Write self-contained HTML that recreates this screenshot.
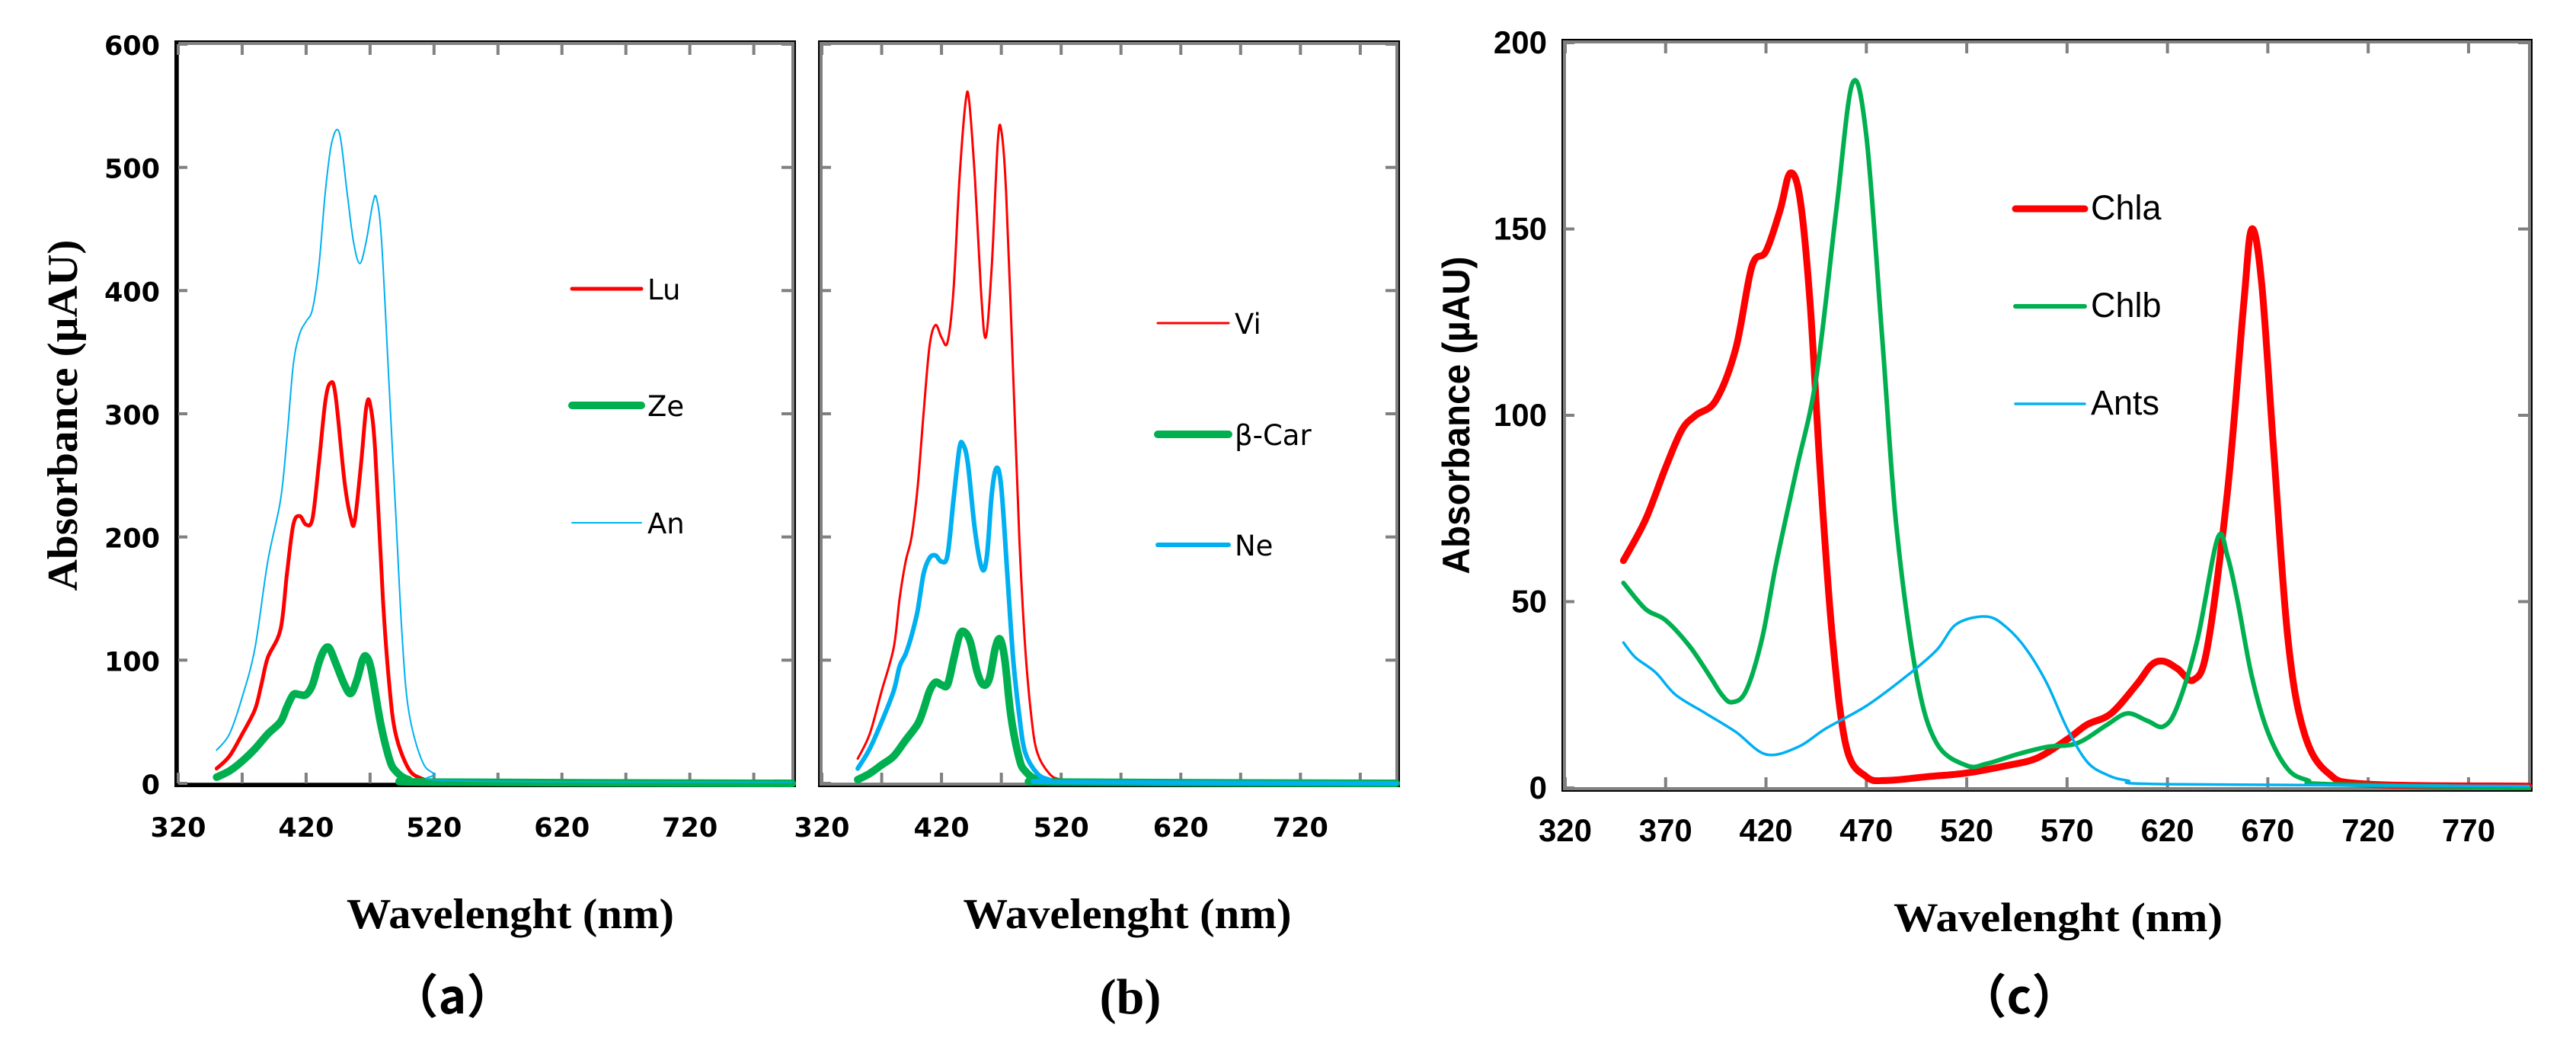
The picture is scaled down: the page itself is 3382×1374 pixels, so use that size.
<!DOCTYPE html>
<html><head><meta charset="utf-8">
<style>
html,body{margin:0;padding:0;background:#fff;}
svg{display:block;}
.tk{font-family:"DejaVu Sans",sans-serif;font-weight:bold;font-size:35px;fill:#000;}
.tkc{font-family:"Liberation Sans",sans-serif;font-weight:bold;font-size:42px;fill:#000;}
.ser{font-family:"Liberation Serif",serif;font-weight:bold;fill:#000;}
.lg{font-family:"DejaVu Sans",sans-serif;font-size:37px;fill:#000;}
.lgc{font-family:"Liberation Sans",sans-serif;font-size:45px;fill:#000;}
</style></head>
<body>
<svg id="chart" width="3382" height="1374" viewBox="0 0 3382 1374" xmlns="http://www.w3.org/2000/svg">
<g id="layer"></g>
</svg>
<script>
// ---- data ----
const xTicksAB = [320,420,520,620,720];
const yTicksAB = [0,100,200,300,400,500,600];
const xTicksC = [320,370,420,470,520,570,620,670,720,770];
const yTicksC = [0,50,100,150,200];

const luNm = [350,360,370,380,385,390,400,405,410,415,420,425,430,435,439,443,450,455,458,463,467,470,474,480,485,490,500,510,520,540,800];
const luVal = [12,22,40,60,80,102,125,170,210,217,210,215,260,310,325,315,245,215,213,260,305,308,270,150,80,40,12,4,2,1,0];
const anNm = [350,360,370,380,390,400,405,410,415,420,425,430,435,440,446,452,457,462,467,472,475,479,485,490,495,500,510,520,540,800];
const anVal = [27,40,70,110,180,230,280,340,365,375,385,420,480,520,528,480,440,422,440,470,475,440,320,220,120,60,20,8,2,1];
const zeNm = [350,360,370,380,390,400,405,410,415,420,425,430,434,438,443,450,455,460,464,467,471,478,485,490,500,520,800];
const zeVal = [5,10,18,28,40,50,62,72,72,72,80,98,108,110,98,80,73,85,100,103,92,50,20,10,3,1,0];

const viNm = [350,360,370,380,385,390,395,400,405,410,415,420,425,430,435,440,443,448,453,457,462,467,470,474,480,485,490,495,500,510,520,540,800];
const viVal = [20,40,75,110,150,180,200,240,300,355,372,362,358,400,490,552,555,490,400,362,420,520,530,480,330,200,110,55,25,8,3,1,0];
const neNm = [350,360,370,380,385,390,395,400,405,410,415,420,425,430,435,438,442,448,454,458,462,466,470,475,480,485,490,500,510,520,800];
const neVal = [12,28,50,75,95,105,120,140,170,183,185,180,185,230,272,275,260,205,174,185,235,256,240,170,100,55,25,8,3,1,0];
const bcNm = [350,360,370,380,390,400,405,410,415,420,425,430,435,439,444,450,455,460,465,469,473,478,485,490,500,520,800];
const bcVal = [3,8,15,22,35,48,60,75,82,80,80,100,120,123,115,90,80,85,110,117,100,55,20,10,3,1,0];

const chlaNm = [349,360,370,378,385,395,405,413,420,427,432,437,442,447,453,460,470,480,500,520,540,555,570,580,592,605,612,618,625,633,640,650,658,662,667,673,680,688,700,720,800];
const chlaVal = [61,72,86,96,100,104,118,140,144,155,165,158,130,85,41,11,3,2,3,4,6,8,13,17,20,28,33,34,32,29,38,80,130,150,135,90,40,15,4,1,0.5];
const chlbNm = [349,360,370,382,392,398,403,410,418,425,435,445,455,463,470,478,485,495,505,520,530,545,560,575,590,600,610,618,625,635,645,650,655,662,670,680,690,700,800];
const chlbVal = [55,48,45,38,30,25,23,26,40,60,85,110,155,189,175,120,70,30,12,6,6.5,9,11,12,17,20,18,16.5,22,40,67,62,50,30,15,5,2,1,0];
const antsNm = [349,355,365,375,390,405,420,436,450,470,490,505,515,530,540,550,560,570,580,590,600,620,800];
const antsVal = [39,35,31,25,20,15,9,11,16,22,30,37,44,46,43,37,28,16,7,3.5,2,1,0.5];

// ---- helpers ----
const NS="http://www.w3.org/2000/svg";
const layer=document.getElementById('layer');
function mk(tag,attrs,parent){const e=document.createElementNS(NS,tag);for(const k in attrs)e.setAttribute(k,attrs[k]);(parent||layer).appendChild(e);return e;}
function smooth(pts){
  let d="M"+pts[0][0].toFixed(1)+","+pts[0][1].toFixed(1);
  for(let i=0;i<pts.length-1;i++){
    const p0=pts[Math.max(i-1,0)],p1=pts[i],p2=pts[i+1],p3=pts[Math.min(i+2,pts.length-1)];
    const c1=[p1[0]+(p2[0]-p0[0])/6,p1[1]+(p2[1]-p0[1])/6];
    const c2=[p2[0]-(p3[0]-p1[0])/6,p2[1]-(p3[1]-p1[1])/6];
    d+="C"+c1[0].toFixed(1)+","+c1[1].toFixed(1)+" "+c2[0].toFixed(1)+","+c2[1].toFixed(1)+" "+p2[0].toFixed(1)+","+p2[1].toFixed(1);
  }
  return d;
}
function panel(cfg){
  const g=mk('g',{});
  
  
  const X=v=>cfg.x0+(v-cfg.xmin)/(cfg.xmax-cfg.xmin)*(cfg.x1-cfg.x0);
  const Y=v=>cfg.y0-(v-cfg.ymin)/(cfg.ymax-cfg.ymin)*(cfg.y0-cfg.y1);
  const fo=mk('rect',{x:cfg.x0-4,y:cfg.y1-4,width:cfg.x1-cfg.x0+8,height:cfg.y0-cfg.y1+8,fill:'none',stroke:'#000','stroke-width':2},g);
  
  
  const fr=mk('rect',{x:cfg.x0-1,y:cfg.y1-1,width:cfg.x1-cfg.x0+2,height:cfg.y0-cfg.y1+2,fill:'none',stroke:'#808080','stroke-width':4},g);
  
  
  if(cfg.darkAxes){
    const ax=mk('path',{d:'M'+(cfg.x0-2)+','+(cfg.y1-3)+' V'+(cfg.y0+2)+' H'+(cfg.x1+3),fill:'none',stroke:'#000','stroke-width':5},g);
    
    
  }
  const xs=[];for(let v=cfg.xmin;v<=cfg.xmax;v+=cfg.xstep)xs.push(v);
  xs.forEach(v=>{
    const px=X(v);
    const t1=mk('line',{x1:px,y1:cfg.y1,x2:px,y2:cfg.y1+14,stroke:'#808080','stroke-width':4},g);
    
    
    const t2=mk('line',{x1:px,y1:cfg.y0,x2:px,y2:cfg.y0-14,stroke:'#808080','stroke-width':4},g);
    
    
  });
  cfg.yTicks.forEach(v=>{
    const py=Y(v);
    const t=mk('line',{x1:cfg.x1,y1:py,x2:cfg.x1-14,y2:py,stroke:'#808080','stroke-width':4},g);
    
    
    const t2=mk('line',{x1:cfg.x0,y1:py,x2:cfg.x0+12,y2:py,stroke:'#808080','stroke-width':4},g);
    
    
  });
  cfg.xTicks.forEach(v=>{
    const t=mk('text',{x:X(v),y:cfg.y0+70,'text-anchor':'middle','class':cfg.tkClass},g);
    t.textContent=v;
    
    
  });
  if(cfg.yLabels){
    cfg.yTicks.forEach(v=>{
      const t=mk('text',{x:cfg.x0-24,y:Y(v)+14,'text-anchor':'end','class':cfg.tkClass},g);
      t.textContent=v;
      
      
    });
  }
  const clipId='clip-'+cfg.name;
  const cp=mk('clipPath',{id:clipId},g);
  mk('rect',{x:cfg.x0,y:cfg.y1,width:cfg.x1-cfg.x0+8,height:cfg.y0-cfg.y1+6},cp);
  cfg.series.forEach(s=>{
    const pts=s.nm.map((n,i)=>[X(n),Y(s.val[i])]);
    const p=mk('path',{d:smooth(pts),fill:'none',stroke:s.color,'stroke-width':s.w,'stroke-linejoin':'round','stroke-linecap':'round','clip-path':'url(#'+clipId+')'},g);
    
    
  });
  cfg.series.forEach((s,i)=>{
    const lg=mk('g',{},g);
    
    
    const ly=cfg.legY[i];
    mk('line',{x1:cfg.legX,y1:ly,x2:cfg.legX+cfg.legW,y2:ly,stroke:s.color,'stroke-width':s.w,'stroke-linecap':'round'},lg);
    const t=mk('text',{x:cfg.legX+cfg.legW+8,y:ly+14,'class':cfg.lgClass},lg);
    t.textContent=s.label;
  });
}
panel({name:'panel-a',x0:234,x1:1040,y0:1028,y1:58,xmin:320,xmax:800,xstep:50,ymin:0,ymax:600,darkAxes:true,
  xTicks:xTicksAB,yTicks:yTicksAB,yLabels:true,tkClass:'tk',lgClass:'lg',legX:751,legW:91,legY:[379,532,686],
  series:[{key:'lu',label:'Lu',nm:luNm,val:luVal,color:'#ff0000',w:5},
          {key:'ze',label:'Ze',nm:zeNm,val:zeVal,color:'#00b050',w:10},
          {key:'an',label:'An',nm:anNm,val:anVal,color:'#00b0f0',w:2}]});
panel({name:'panel-b',x0:1079,x1:1833,y0:1028,y1:58,xmin:320,xmax:800,xstep:50,ymin:0,ymax:600,
  xTicks:xTicksAB,yTicks:yTicksAB,yLabels:false,tkClass:'tk',lgClass:'lg',legX:1520,legW:93,legY:[424,570,715],
  series:[{key:'vi',label:'Vi',nm:viNm,val:viVal,color:'#ff0000',w:3},
          {key:'bcar',label:'β-Car',nm:bcNm,val:bcVal,color:'#00b050',w:10},
          {key:'ne',label:'Ne',nm:neNm,val:neVal,color:'#00b0f0',w:6}]});
panel({name:'panel-c',x0:2055,x1:3320,y0:1034,y1:56,xmin:320,xmax:800,xstep:50,ymin:0,ymax:200,
  xTicks:xTicksC,yTicks:yTicksC,yLabels:true,tkClass:'tkc',lgClass:'lgc',legX:2646,legW:91,legY:[274,402,530],
  series:[{key:'chla',label:'Chla',nm:chlaNm,val:chlaVal,color:'#ff0000',w:9},
          {key:'chlb',label:'Chlb',nm:chlbNm,val:chlbVal,color:'#00b050',w:6},
          {key:'ants',label:'Ants',nm:antsNm,val:antsVal,color:'#00b0f0',w:3.5}]});
</script>
<div style="position:absolute;left:0;top:0;width:3382px;height:1374px;pointer-events:none">
<svg width="3382" height="1374" xmlns="http://www.w3.org/2000/svg">
<text class="ser" x="0" y="0" font-size="56" text-anchor="middle" textLength="461" lengthAdjust="spacingAndGlyphs" transform="translate(101,545) rotate(-90)">Absorbance (µAU)</text>
<text class="ser" x="670" y="1218" font-size="56" text-anchor="middle" textLength="430" lengthAdjust="spacingAndGlyphs">Wavelenght (nm)</text>
<text class="ser" x="1480" y="1218" font-size="56" text-anchor="middle" textLength="431" lengthAdjust="spacingAndGlyphs">Wavelenght (nm)</text>
<text class="ser" x="2702" y="1222" font-size="54" text-anchor="middle" textLength="432" lengthAdjust="spacingAndGlyphs">Wavelenght (nm)</text>
<text x="0" y="0" font-family="Liberation Sans, sans-serif" font-weight="bold" font-size="50" text-anchor="middle" textLength="417" lengthAdjust="spacingAndGlyphs" transform="translate(1929,545) rotate(-90)">Absorbance (µAU)</text>
<text x="594" y="1330" font-family="Noto Sans CJK SC, sans-serif" font-weight="bold" font-size="62" text-anchor="middle">（a）</text>
<text class="ser" x="1484" y="1330" font-size="66" text-anchor="middle">(b)</text>
<text x="2651" y="1330" font-family="Noto Sans CJK SC, sans-serif" font-weight="bold" font-size="62" text-anchor="middle">（c）</text>
</svg></div>
</body></html>
